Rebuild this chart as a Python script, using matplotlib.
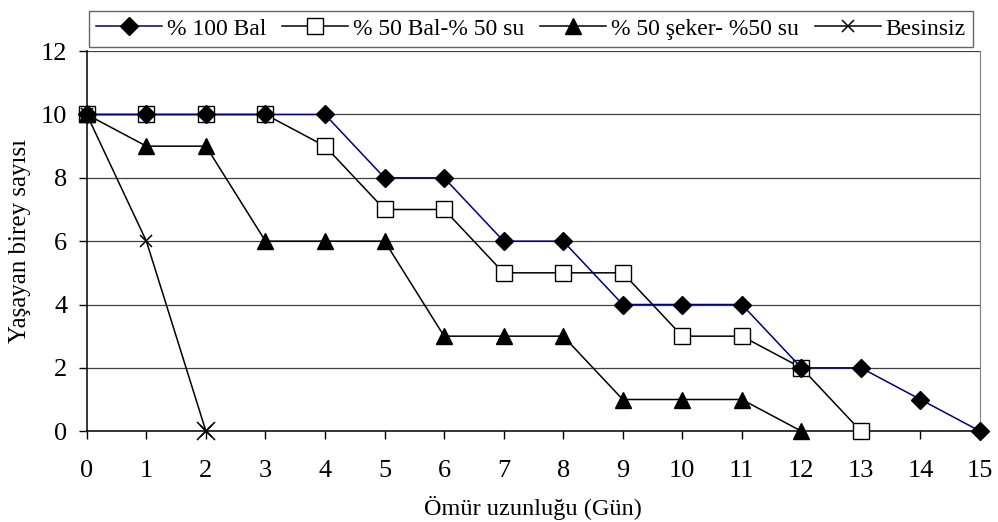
import matplotlib.pyplot as plt
import numpy as np

plt.rcParams['font.family'] = ['Liberation Serif', 'DejaVu Serif']

days_bal = list(range(0, 16))
bal_100 = [10, 10, 10, 10, 10, 8, 8, 6, 6, 4, 4, 4, 2, 2, 1, 0]

days_bal_su = list(range(0, 14))
bal_50_su = [10, 10, 10, 10, 9, 7, 7, 5, 5, 5, 3, 3, 2, 0]

days_seker = list(range(0, 13))
seker_50_su = [10, 9, 9, 6, 6, 6, 3, 3, 3, 1, 1, 1, 0]

days_besinsiz = [0, 1, 2]
besinsiz = [10, 6, 0]

labels = ["% 100 Bal", "% 50 Bal-% 50 su", "% 50 şeker- %50 su", "Besinsiz"]
x_ticks = list(range(0, 16))
y_ticks = [0, 2, 4, 6, 8, 10, 12]

fig = plt.figure(figsize=(9.98, 5.22), dpi=100)
ax = fig.add_axes([0.087, 0.174, 0.895, 0.728])

ax.plot(days_bal, bal_100, color='#000080', lw=1.1, marker='D', ms=9,
        mfc='black', mec='black', label=labels[0], zorder=4, clip_on=False)
ax.plot(days_bal_su, bal_50_su, color='black', lw=1.1, marker='s', ms=11,
        mfc='white', mec='black', label=labels[1], zorder=3, clip_on=False)
ax.plot(days_seker, seker_50_su, color='black', lw=1.1, marker='^', ms=11,
        mfc='black', mec='black', label=labels[2], zorder=5, clip_on=False)
ax.plot(days_besinsiz, besinsiz, color='black', lw=1.1, marker='x', ms=8,
        mew=1.1, label=labels[3], zorder=5, clip_on=False)
ax.plot(days_besinsiz[-1:], besinsiz[-1:], color='black', ls='none',
        marker='x', ms=13, mew=1.1, zorder=5, clip_on=False)

ax.set_xlim(0, 15)
ax.set_ylim(0, 12)
ax.set_xticks(x_ticks)
ax.set_yticks(y_ticks)
ax.yaxis.grid(True, color='#404040', lw=0.9)
ax.set_axisbelow(True)
ax.tick_params(axis='both', direction='out', length=6, width=1, labelsize=19)
ax.tick_params(axis='x', pad=15)
ax.tick_params(axis='y', pad=8)
ax.spines['top'].set_visible(False)
ax.spines['right'].set_color('#808080')
ax.spines['left'].set_linewidth(1.1)
ax.spines['bottom'].set_linewidth(1.1)

ax.set_xlabel("Ömür uzunluğu (Gün)", fontsize=17.5, labelpad=10)
ax.set_ylabel("Yaşayan birey sayısı", fontsize=18, labelpad=7)

leg = fig.legend(loc='center', bbox_to_anchor=(0.089, 0.908, 0.886, 0.073),
                 mode='expand', ncol=4, fontsize=17, frameon=True, fancybox=False,
                 shadow=False, edgecolor='#404040', borderaxespad=0,
                 handlelength=2.8, handletextpad=0.2, columnspacing=1.0,
                 borderpad=0.3)
leg.get_frame().set_linewidth(1)

fig.savefig("out.png", dpi=100)
